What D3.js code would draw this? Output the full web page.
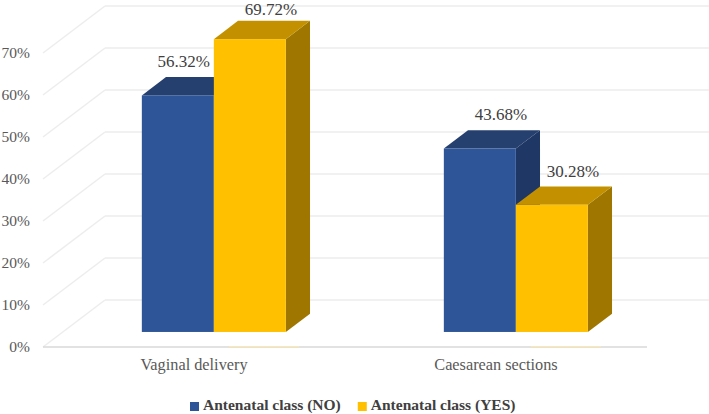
<!DOCTYPE html>
<html>
<head>
<meta charset="utf-8">
<script src="https://cdn.jsdelivr.net/npm/d3@7"></script>
<style>
  html, body { margin: 0; padding: 0; background: #fff; }
  svg { display: block; }
</style>
</head>
<body>
<svg id="chart" width="709" height="414"></svg>
<script>
// ---- data ----
const categories = ["Vaginal delivery", "Caesarean sections"];
const seriesNames = ["Antenatal class (NO)", "Antenatal class (YES)"];
const seriesNO = [0.5632, 0.4368];
const seriesYES = [0.6972, 0.3028];
const valueLabels = [["56.32%", "43.68%"], ["69.72%", "30.28%"]];
const yTicks = [0, 0.1, 0.2, 0.3, 0.4, 0.5, 0.6, 0.7];
const yTickLabels = ["0%", "10%", "20%", "30%", "40%", "50%", "60%", "70%"];

// ---- styling / layout ----
const FONT = "'Liberation Serif', 'Times New Roman', serif";
const seriesValues = [seriesNO, seriesYES];
const colors = [
  { front: "#2E5597", top: "#253F6E", side: "#1F3764" },
  { front: "#FFC000", top: "#C39100", side: "#9E7600" }
];
const svg = d3.select("#chart");
const x0 = 43, x1 = 647;          // front plane extent
const DX = 62, DY = -47;          // depth vector (front -> back wall)
const d0 = 0.32, d1 = 0.71;       // bar depth range

const x = d3.scaleBand().domain(categories).range([x0, x1]);
const y = d3.scaleLinear().domain([0, 0.7]).range([347, 53]);
const groupW = 144;
const xs = d3.scaleBand().domain(seriesNames).range([0, groupW]);

// gridlines (back wall + left wall diagonals)
const grid = svg.append("g");
yTicks.forEach(t => {
  const yy = y(t);
  grid.append("line")
    .attr("x1", x0 + DX).attr("x2", x1 + DX)
    .attr("y1", yy + DY).attr("y2", yy + DY)
    .attr("stroke", "#EDEDED").attr("stroke-width", 1.5);
  grid.append("line")
    .attr("x1", x0).attr("x2", x0 + DX)
    .attr("y1", yy).attr("y2", yy + DY)
    .attr("stroke", "#EDEDED").attr("stroke-width", 1.5);
});
// floor front edge
grid.append("line")
  .attr("x1", x0).attr("x2", x1)
  .attr("y1", y(0)).attr("y2", y(0))
  .attr("stroke", "#D9D9D9").attr("stroke-width", 1.5);

// y-axis labels
svg.append("g").selectAll("text")
  .data(yTicks)
  .join("text")
  .attr("x", 30)
  .attr("y", d => y(d) + 1)
  .attr("text-anchor", "end")
  .attr("dominant-baseline", "middle")
  .attr("font-family", FONT)
  .attr("font-size", 15.5)
  .attr("fill", "#595959")
  .text((d, i) => yTickLabels[i]);

// bars
const bars = [];
categories.forEach((c, ci) => {
  const gx = x(c) + (x.bandwidth() - groupW) / 2;
  seriesNames.forEach((s, si) => {
    const v = seriesValues[si][ci];
    const xl = gx + xs(s) + d0 * DX;
    const xr = xl + xs.bandwidth();
    const yb = y(0) + d0 * DY;
    const yt = y(v) + d0 * DY;
    bars.push({ ci, si, v, xl, xr, yb, yt, label: valueLabels[si][ci] });
  });
});

const bd = d1 - d0;
const ddx = bd * DX, ddy = bd * DY;
const bg = svg.append("g");

// faint floor reflection lines
bars.filter(b => b.si === 1).forEach(b => {
  bg.append("line")
    .attr("x1", b.xl + 15).attr("x2", b.xr + 13)
    .attr("y1", y(0) - 0.5).attr("y2", y(0) - 0.5)
    .attr("stroke", "#FFE7A6").attr("stroke-width", 1.2);
});

bars.forEach(b => {
  const c = colors[b.si];
  const g = bg.append("g");
  g.append("path")
    .attr("d", `M${b.xr},${b.yt} L${b.xr + ddx},${b.yt + ddy} L${b.xr + ddx},${b.yb + ddy} L${b.xr},${b.yb} Z`)
    .attr("fill", c.side);
  g.append("path")
    .attr("d", `M${b.xl},${b.yt} L${b.xr},${b.yt} L${b.xr + ddx},${b.yt + ddy} L${b.xl + ddx},${b.yt + ddy} Z`)
    .attr("fill", c.top);
  g.append("rect")
    .attr("x", b.xl).attr("y", b.yt)
    .attr("width", b.xr - b.xl).attr("height", b.yb - b.yt)
    .attr("fill", c.front);
});

// value labels
const lbl = svg.append("g");
bars.forEach(b => {
  let cx = (b.xl + b.xr) / 2 + 21;
  const cy = Math.max(b.yt - 32, 11);
  const t = lbl.append("text")
    .attr("x", cx).attr("y", cy)
    .attr("text-anchor", "middle")
    .attr("dominant-baseline", "middle")
    .attr("font-family", FONT)
    .attr("font-size", 17)
    .attr("fill", "#404040")
    .text(b.label);
  const w = t.node().getComputedTextLength();
  const next = bars.find(o => o.ci === b.ci && o.si === b.si + 1);
  if (next && next.yt < cy + 10 && cx + w / 2 > next.xl - 4) {
    cx = next.xl - 4 - w / 2;
    t.attr("x", cx);
  }
});

// category labels
svg.append("g").selectAll("text")
  .data(categories)
  .join("text")
  .attr("x", d => x(d) + x.bandwidth() / 2)
  .attr("y", 366)
  .attr("text-anchor", "middle")
  .attr("dominant-baseline", "middle")
  .attr("font-family", FONT)
  .attr("font-size", 16.3)
  .attr("fill", "#595959")
  .text(d => d);

// legend
const leg = svg.append("g");
let lx = 190;
seriesNames.forEach((s, i) => {
  leg.append("rect")
    .attr("x", lx).attr("y", 402)
    .attr("width", 9).attr("height", 9)
    .attr("fill", colors[i].front);
  const t = leg.append("text")
    .attr("x", lx + 13).attr("y", 406.5)
    .attr("dominant-baseline", "middle")
    .attr("font-family", FONT)
    .attr("font-weight", "bold")
    .attr("font-size", 15.5)
    .attr("fill", "#404040")
    .text(s);
  lx += 13 + t.node().getComputedTextLength() + 17;
});
</script>
</body>
</html>
